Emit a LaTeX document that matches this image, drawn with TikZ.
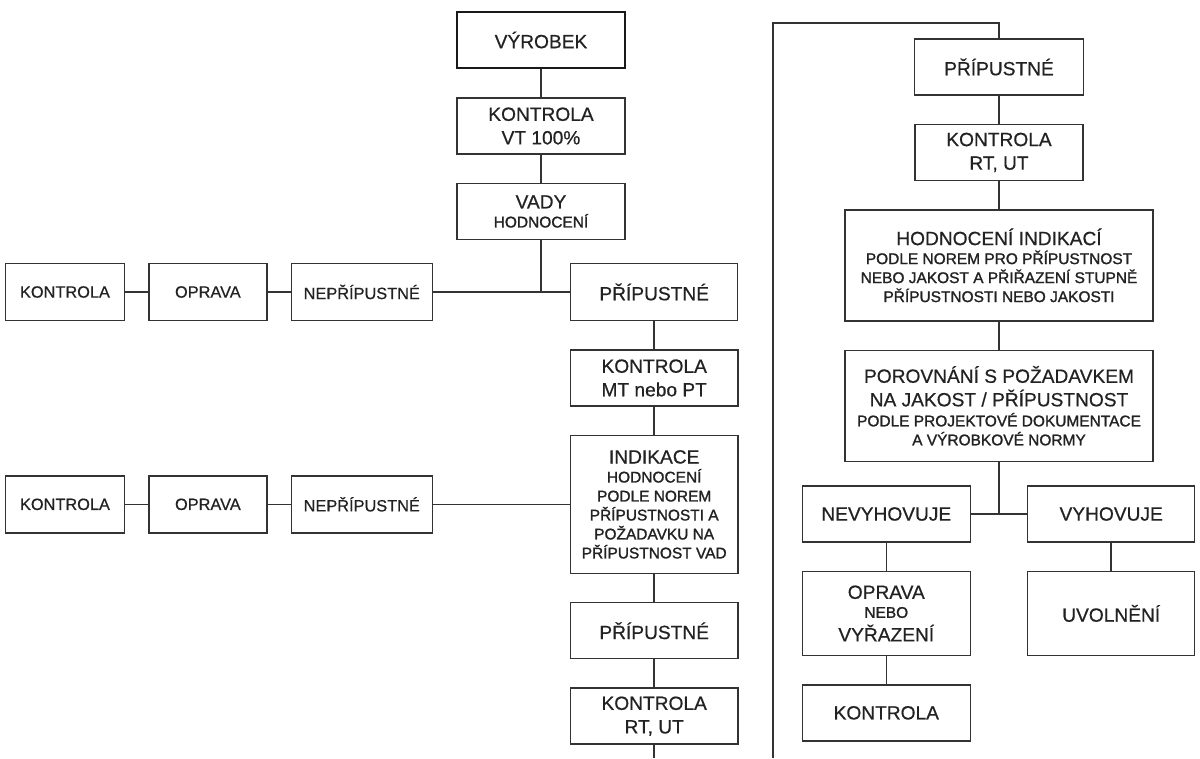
\documentclass[tikz,border=0pt]{standalone}
\usepackage{fontspec}
\setmainfont{Liberation Sans}[FakeBold=0.6]
\newfontfamily\drobne{Liberation Sans}[FakeBold=1.4]
\usepackage{tikz}
\usetikzlibrary{positioning}
\definecolor{cara}{HTML}{333333}
\definecolor{pismo}{HTML}{222222}
\newcommand{\velkytext}{\fontsize{10.9}{13.4}\selectfont}
\newcommand{\malytext}{\drobne\fontsize{8.8}{10.8}\selectfont}
\newcommand{\levytext}{\fontsize{9.3}{11}\selectfont}
\newcommand{\mezera}{-2.6pt}

\begin{document}
\begin{tikzpicture}[x=0.02cm, y=-0.02cm,
        node distance=0.56cm and 0.46cm,
        krabice/.style={draw=cara, line width=0.82pt, text=pismo, align=center,
            minimum width=3.36cm, minimum height=1.12cm, inner sep=1pt, font=\velkytext},
        silna/.style={krabice, draw=black!90, line width=1.5pt},
        leva/.style={krabice, minimum height=1.14cm, font=\levytext},
        siroka/.style={krabice, minimum width=6.16cm, minimum height=2.22cm},
        spoj/.style={draw=cara, line width=0.82pt}]
        \useasboundingbox (0,0) rectangle (1200,758);
        \node[silna] (vyrobek) at (541,40) {VÝROBEK};
        \node[krabice, below=of vyrobek] (kontrolaVT) {KONTROLA\\VT 100\%};
        \node[krabice, below=of kontrolaVT] (vady) {VADY\\[\mezera]{\malytext HODNOCENÍ}};
        \node[krabice, anchor=west, minimum width=3.34cm, minimum height=1.14cm] (pripustne1) at (570,292) {PŘÍPUSTNÉ};
        \node[leva, anchor=east, minimum width=2.82cm] (nepripustne1) at (433,292) {NEPŘÍPUSTNÉ};
        \node[leva, left=of nepripustne1, minimum width=2.36cm] (oprava1) {OPRAVA};
        \node[leva, left=of oprava1, minimum width=2.38cm] (kontrola1) {KONTROLA};
        \node[krabice, below=of pripustne1] (kontrolaMT) {KONTROLA\\MT nebo PT};
        \node[krabice, below=of kontrolaMT, minimum height=2.76cm] (indikace) {INDIKACE\\[\mezera]
            {\malytext HODNOCENÍ}\\[\mezera]{\malytext PODLE NOREM}\\[\mezera]
            {\malytext PŘÍPUSTNOSTI A}\\[\mezera]{\malytext POŽADAVKU NA}\\[\mezera]
            {\malytext PŘÍPUSTNOST VAD}};
        \node[krabice, below=of indikace] (pripustne2) {PŘÍPUSTNÉ};
        \node[krabice, below=of pripustne2] (kontrolaRT1) {KONTROLA\\RT, UT};
        \node[leva, anchor=east, minimum width=2.82cm] (nepripustne2) at (nepripustne1.east |- indikace) {NEPŘÍPUSTNÉ};
        \node[leva, left=of nepripustne2, minimum width=2.36cm] (oprava2) {OPRAVA};
        \node[leva, left=of oprava2, minimum width=2.38cm] (kontrola2) {KONTROLA};
        \coordinate (uzel1) at (vady |- pripustne1);
        \coordinate (konec1) at (kontrolaRT1 |- 0,758);

        \node[krabice, minimum width=3.38cm] (pripustne3) at (999,67) {PŘÍPUSTNÉ};
        \node[krabice, below=of pripustne3] (kontrolaRT2) {KONTROLA\\RT, UT};
        \node[siroka, below=of kontrolaRT2] (hodnoceni) {HODNOCENÍ INDIKACÍ\\[\mezera]
            {\malytext PODLE NOREM PRO PŘÍPUSTNOST}\\[\mezera]
            {\malytext NEBO JAKOST A PŘIŘAZENÍ STUPNĚ}\\[\mezera]
            {\malytext PŘÍPUSTNOSTI NEBO JAKOSTI}};
        \node[siroka, below=of hodnoceni] (porovnani) {POROVNÁNÍ S POŽADAVKEM\\
            NA JAKOST / PŘÍPUSTNOST\\[-2pt]
            {\malytext PODLE PROJEKTOVÉ DOKUMENTACE}\\[\mezera]
            {\malytext A VÝROBKOVÉ NORMY}};
        \node[krabice, anchor=east] (nevyhovuje) at (971,514) {NEVYHOVUJE};
        \node[krabice, anchor=west, minimum width=3.34cm] (vyhovuje) at (1027,514) {VYHOVUJE};
        \node[krabice, below=of nevyhovuje, minimum height=1.68cm] (oprava3) {OPRAVA\\[\mezera]{\malytext NEBO}\\VYŘAZENÍ};
        \node[krabice, below=of vyhovuje, minimum width=3.34cm, minimum height=1.68cm] (uvolneni) {UVOLNĚNÍ};
        \node[krabice, below=of oprava3] (kontrola3) {KONTROLA};
        \coordinate (uzel2) at (porovnani |- nevyhovuje);
        \coordinate (roh) at (773,23);
        \coordinate (spodek) at (773,758);

        \draw[spoj] (vyrobek) -- (kontrolaVT);
        \draw[spoj] (kontrolaVT) -- (vady);
        \draw[spoj] (vady) -- (uzel1);
        \draw[spoj] (nepripustne1) -- (pripustne1);
        \draw[spoj] (kontrola1) -- (oprava1);
        \draw[spoj] (oprava1) -- (nepripustne1);
        \draw[spoj] (pripustne1) -- (kontrolaMT);
        \draw[spoj] (kontrolaMT) -- (indikace);
        \draw[spoj] (indikace) -- (pripustne2);
        \draw[spoj] (pripustne2) -- (kontrolaRT1);
        \draw[spoj] (kontrolaRT1) -- (konec1);
        \draw[spoj] (nepripustne2) -- (indikace);
        \draw[spoj] (kontrola2) -- (oprava2);
        \draw[spoj] (oprava2) -- (nepripustne2);

        \draw[spoj] (spodek) -- (roh) -| (pripustne3);
        \draw[spoj] (pripustne3) -- (kontrolaRT2);
        \draw[spoj] (kontrolaRT2) -- (hodnoceni);
        \draw[spoj] (hodnoceni) -- (porovnani);
        \draw[spoj] (porovnani) -- (uzel2);
        \draw[spoj] (nevyhovuje) -- (vyhovuje);
        \draw[spoj] (nevyhovuje) -- (oprava3);
        \draw[spoj] (oprava3) -- (kontrola3);
        \draw[spoj] (vyhovuje) -- (uvolneni);
\end{tikzpicture}
\end{document}
